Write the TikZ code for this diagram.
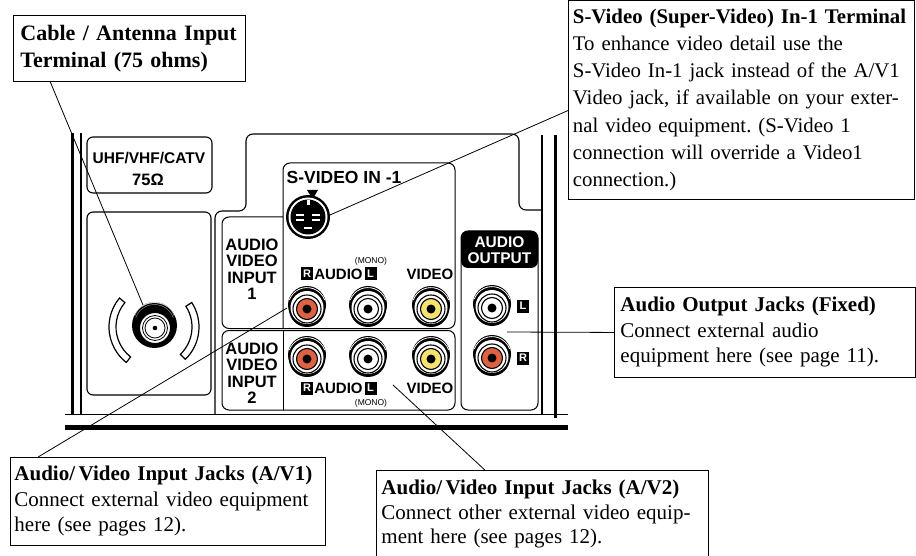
\documentclass[tikz,border=0pt]{standalone}
\usepackage{fontspec}
\setmainfont{Liberation Serif}
\newfontfamily\hsans{Liberation Sans}
\usetikzlibrary{calc}
\definecolor{jackred}{RGB}{222,98,66}
\definecolor{jackyellow}{RGB}{245,226,112}
\frenchspacing
\begin{document}
\begin{tikzpicture}[x=1pt,y=-1pt,
  callout/.style={draw, line width=0.9pt, fill=white, anchor=north west, align=left, inner ysep=0pt},
  leader/.style={line width=0.8pt},
  panel/.style={line width=1.1pt, rounded corners=7pt},
  thickframe/.style={line width=3pt},
  thinframe/.style={line width=1.1pt},
  sanslab/.style={font=\hsans\bfseries\fontsize{16.5}{16.5}\selectfont, align=center, inner sep=0pt},
  rowlab/.style={font=\hsans\bfseries\fontsize{15}{15}\selectfont, inner sep=0pt},
  headlab/.style={font=\hsans\bfseries\fontsize{15.5}{15.5}\selectfont, text=white, inner sep=0pt},
  monolab/.style={font=\hsans\fontsize{8.5}{8.5}\selectfont, inner sep=0pt},
  chan/.style={fill=black, text=white, font=\hsans\bfseries\fontsize{11}{11}\selectfont, minimum width=12pt, minimum height=13pt, inner sep=0pt},
  pics/rca/.style={code={
    \fill[black] (0,-4) circle[radius=19];
    \fill[black] (0,0) circle[radius=18];
    \fill[white] (0,-1.5) circle[radius=16.5];
    \draw[white,line width=0.8pt] (0,-2.6) ++(200:18.8) arc[start angle=200,end angle=340,radius=18.8];
    \draw[line width=1.1pt] (0,0) circle[radius=14];
    \filldraw[fill=#1, line width=1.1pt] (0,0) circle[radius=10.5];
    \fill[black] (0,0) circle[radius=4.5];
  }}
]
\useasboundingbox (0,0) rectangle (916,556);

% ---- outer frame of TV back ----
\draw[thickframe] (72,133) -- (72,415);
\draw[thinframe] (81,133) -- (81,414);
\draw[thinframe] (542,135) -- (542,414);
\draw[thickframe] (555,135) -- (555,418);
\draw[thinframe] (65,414.5) -- (568,414.5);
\draw[line width=5pt] (65,427.5) -- (568,427.5);

% ---- antenna section ----
\draw[panel, rounded corners=6pt] (87,137) rectangle (212,193);
\node[font=\hsans\bfseries\fontsize{15.5}{15.5}\selectfont, inner sep=0pt] (uhf) at (149,158) {UHF/VHF/CATV};
\node[font=\hsans\bfseries\fontsize{16.5}{16.5}\selectfont, inner sep=0pt] (ohm) at (148,180) {75Ω};
\draw[panel, rounded corners=6pt] (87,212) rectangle (211,395);

% crescents
\coordinate (cc) at (154,327);
\draw[fill=white, line width=1.2pt] ($(cc)+(128:45)$) arc[start angle=128,end angle=220,radius=45] -- ($(cc)+(220:38)$) arc[start angle=220,end angle=128,radius=38] -- cycle;
\draw[fill=white, line width=1.2pt] ($(cc)+(-33:45)$) arc[start angle=-33,end angle=46,radius=45] -- ($(cc)+(46:38)$) arc[start angle=46,end angle=-33,radius=38] -- cycle;
% coax F connector
\fill[black] (154.5,325.5) circle[radius=22.5];
\draw[gray!70, line width=0.4pt] (154.5,323) ++(200:21) arc[start angle=200,end angle=340,radius=21];
\draw[gray!70, line width=0.4pt] (154.5,324.5) ++(200:20) arc[start angle=200,end angle=340,radius=20];
\filldraw[fill=white, line width=1pt] (155,328) circle[radius=15.5];
\draw[line width=0.8pt] (155,328) circle[radius=12.5];
\draw[line width=0.8pt] (155,328) circle[radius=10];
\fill[black] (155,328) circle[radius=2.3];

% ---- main AV panel outline ----
\draw[panel] (215,414) -- (215,211) -- (246,211) -- (246,134) -- (519,134) -- (519,210) -- (542,210);

% input 1 boxes
\draw[line width=1pt, rounded corners=7pt] (283,217) -- (222,217) -- (222,328.5) -- (455,328.5) -- (455,163) -- (283,163) -- (283,328.5);
% input 2 box
\draw[line width=1pt, rounded corners=7pt] (222,330.5) rectangle (455,410);
\draw[line width=1pt] (283,330.5) -- (283,410);

% audio output box
\draw[line width=1pt, rounded corners=7pt] (461,231) rectangle (538,410);
\fill[black, rounded corners=7pt] (461,268) -- (461,231) -- (538,231) -- (538,268) -- cycle;
\node[headlab] (aouthd1) at (499.5,242) {AUDIO};
\node[headlab] (aouthd2) at (499.5,258) {OUTPUT};

% S-video label and connector
\node[font=\hsans\bfseries\fontsize{17.5}{17.5}\selectfont, inner sep=0pt] (svlab) at (344,177) {S-VIDEO IN -1};
\fill[black] (307,190) -- (318,190) -- (312.5,199) -- cycle;
\fill[black] (308,217) circle[radius=22];
\fill[white] (308,217) circle[radius=19.5];
\fill[black] (308,217) circle[radius=17.5];
\fill[white] (296,214) rectangle (304,216);
\fill[white] (312,214) rectangle (320,216);
\fill[white] (296,219) rectangle (304,221);
\fill[white] (312,219) rectangle (320,221);
\fill[white] (304,227) rectangle (312,229);
\fill[white] (306.5,200) rectangle (309.5,205);

% left labels
\node[sanslab] (av1lab) at (252,269) {AUDIO\\VIDEO\\INPUT\\1};
\node[sanslab] (av2lab) at (252,373) {AUDIO\\VIDEO\\INPUT\\2};

% row labels input 1
\node[monolab] (mono1) at (371,261) {(MONO)};
\node[chan] (r1) at (307,274) {R};
\node[rowlab] (aud1) at (338.5,274) {AUDIO};
\node[chan] (l1) at (370.5,274) {L};
\node[rowlab] (vid1) at (430,274) {VIDEO};
% row labels input 2
\node[chan] (r2) at (307,388) {R};
\node[rowlab] (aud2) at (338.5,388) {AUDIO};
\node[chan] (l2) at (370.5,388) {L};
\node[rowlab] (vid2) at (430,388) {VIDEO};
\node[monolab] (mono2) at (371,403) {(MONO)};
% output channel labels
\node[chan] (lo) at (523,306) {L};
\node[chan] (ro) at (523,358) {R};

% jacks
\pic at (307,309) {rca=jackred};
\pic at (368,309) {rca=white};
\pic at (431,309) {rca=jackyellow};
\pic at (307,359) {rca=jackred};
\pic at (368,359) {rca=white};
\pic at (431,359) {rca=jackyellow};
\pic at (492,308) {rca=white};
\pic at (492,358) {rca=jackred};

% ---- callouts ----
\node[callout, text width=218pt, inner xsep=7pt, minimum height=66pt, font=\bfseries\fontsize{22}{27}\selectfont] (cable) at (13,15) {Cable / Antenna Input\\Terminal (75 ohms)};

\node[callout, text width=337pt, inner xsep=4.5pt, minimum height=199pt, font=\fontsize{20.8}{27.2}\selectfont] (svbox) at (568,0) {\textbf{S-Video (Super-Video) In-1 Terminal}\\To enhance video detail use the\\S-Video In-1 jack instead of the A/V1\\Video jack, if available on your exter-\\nal video equipment. (S-Video 1\\connection will override a Video1\\connection.)};

\node[callout, text width=289pt, inner xsep=6pt, minimum height=90pt, font=\fontsize{21}{25.5}\selectfont] (aout) at (614,287) {\textbf{Audio Output Jacks (Fixed)}\\Connect external audio\\equipment here (see page 11).};

\node[callout, text width=307pt, inner xsep=4pt, minimum height=88pt, font=\fontsize{21}{25.5}\selectfont] (av1) at (10,457) {\textbf{Audio/\,Video Input Jacks (A/V1)}\\Connect external video equipment\\here (see pages 12).};

\node[callout, text width=322pt, inner xsep=5pt, minimum height=88pt, font=\fontsize{21}{24.5}\selectfont] (av2) at (376,470) {\textbf{Audio/\,Video Input Jacks (A/V2)}\\Connect other external video equip-\\ment here (see pages 12).};

% ---- leaders ----
\coordinate (coaxpt) at (143,305);
\coordinate (svpt) at (330,215);
\coordinate (aoutpt) at (507,332);
\coordinate (av1pt) at (287,308);
\coordinate (av2pt) at (393,385);
\draw[leader] ($(cable.south west)!0.16!(cable.south east)$) -- (coaxpt);
\draw[leader] ($(svbox.north west)!0.553!(svbox.south west)$) -- (svpt);
\draw[leader] (aout.west) -- (aoutpt);
\draw[leader] ($(av1.north west)!0.089!(av1.north east)$) -- (av1pt);
\draw[leader] ($(av2.north west)!0.327!(av2.north east)$) -- (av2pt);
\end{tikzpicture}
\end{document}
